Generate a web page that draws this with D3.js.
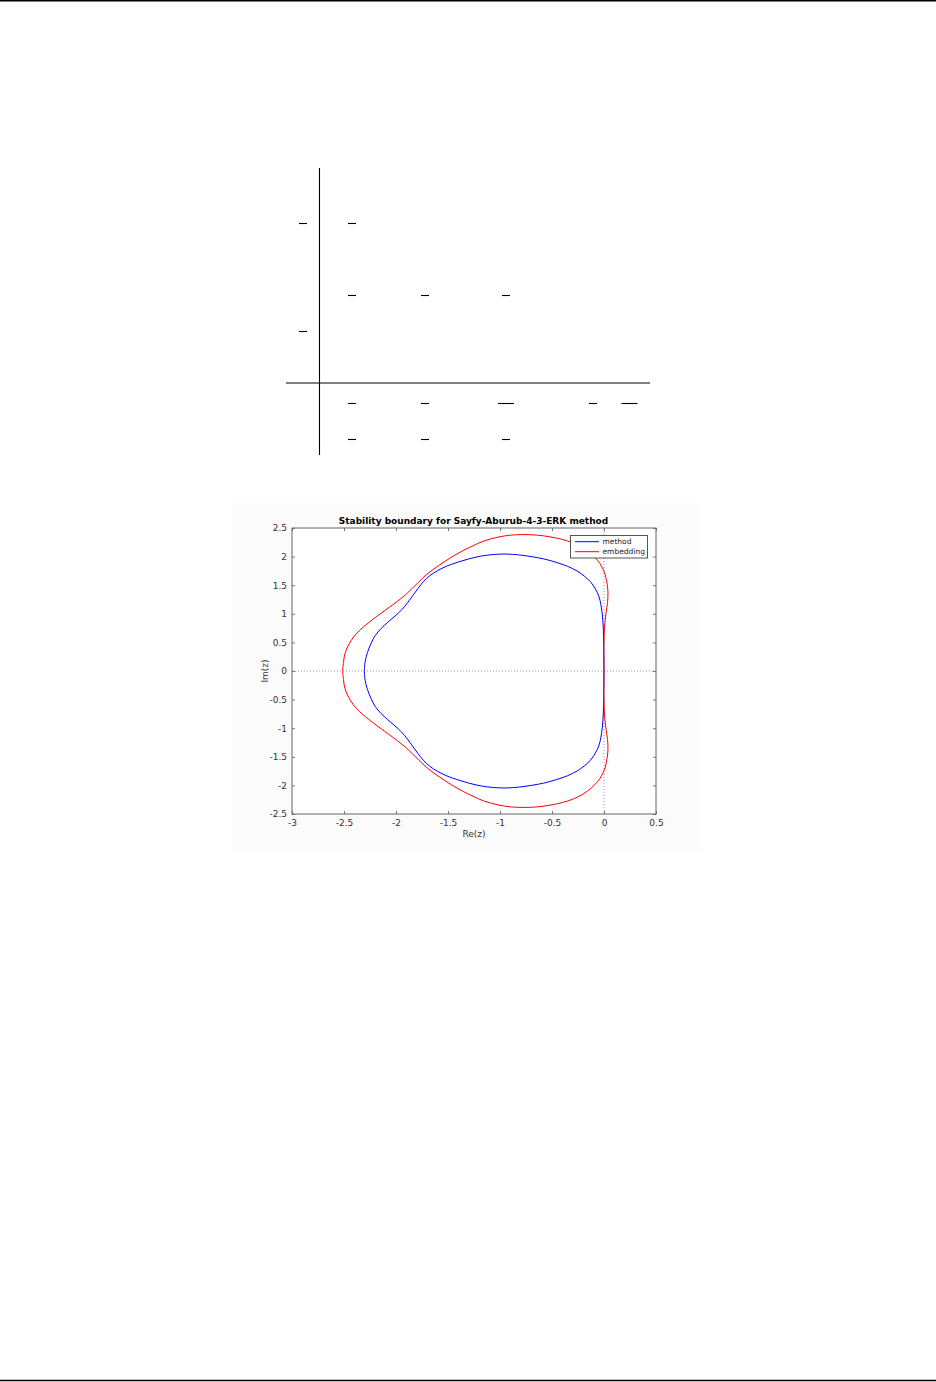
<!DOCTYPE html>
<html>
<head>
<meta charset="utf-8">
<title>Stability boundary for Sayfy-Aburub-4-3-ERK method</title>
<style>
	body { margin: 0; background: #fff; }
	svg { display: block; font-family: "DejaVu Sans", sans-serif; }
</style>
</head>
<body>
<script src="https://d3js.org/d3.v7.min.js"></script>
<script>

// Butcher tableau: only the fraction bars are visible (row, column, digits in denominator)
var tableauC = [ {row: 1, col: 0, digits: 1}, {row: 4, col: 0, digits: 1} ];
var tableauA = [
	{row: 1, col: 1, digits: 1},
	{row: 3, col: 1, digits: 1}, {row: 3, col: 2, digits: 1}, {row: 3, col: 3, digits: 1}
];
var tableauB = [
	{row: 6, col: 1, digits: 1}, {row: 6, col: 2, digits: 1}, {row: 6, col: 3, digits: 2},
	{row: 6, col: 4, digits: 1}, {row: 6, col: 5, digits: 2}
];
var tableauBhat = [ {row: 7, col: 1, digits: 1}, {row: 7, col: 2, digits: 1}, {row: 7, col: 3, digits: 1} ];

// Stability boundaries (Re, Im)
var methodBoundary = [
	[-2.305, 0], [-2.297, 0.16], [-2.275, 0.32], [-2.24, 0.48], [-2.2, 0.62], [-2.145, 0.74],
	[-2.08, 0.85], [-2.01, 0.96], [-1.945, 1.07], [-1.89, 1.19], [-1.84, 1.315], [-1.79, 1.44],
	[-1.737, 1.56], [-1.675, 1.665], [-1.6, 1.755], [-1.51, 1.835], [-1.41, 1.9], [-1.3, 1.96],
	[-1.18, 2.01], [-1.06, 2.037], [-0.94, 2.045], [-0.82, 2.03], [-0.7, 2], [-0.58, 1.96],
	[-0.46, 1.9], [-0.35, 1.83], [-0.26, 1.75], [-0.19, 1.66], [-0.13, 1.56], [-0.085, 1.44],
	[-0.05, 1.31], [-0.03, 1.16], [-0.016, 0.98], [-0.007, 0.75], [-0.003, 0.45], [-0.001, 0.2],
	[0, 0],
	[-0.001, -0.2], [-0.003, -0.45], [-0.007, -0.75], [-0.016, -0.98], [-0.03, -1.16], [-0.05, -1.31],
	[-0.085, -1.44], [-0.13, -1.56], [-0.19, -1.66], [-0.26, -1.75], [-0.35, -1.83], [-0.46, -1.9],
	[-0.58, -1.96], [-0.7, -2], [-0.82, -2.03], [-0.94, -2.045], [-1.06, -2.037], [-1.18, -2.01],
	[-1.3, -1.96], [-1.41, -1.9], [-1.51, -1.835], [-1.6, -1.755], [-1.675, -1.665], [-1.737, -1.56],
	[-1.79, -1.44], [-1.84, -1.315], [-1.89, -1.19], [-1.945, -1.07], [-2.01, -0.96], [-2.08, -0.85],
	[-2.145, -0.74], [-2.2, -0.62], [-2.24, -0.48], [-2.275, -0.32], [-2.297, -0.16], [-2.305, 0]
];
var embeddingBoundary = [
	[-2.513, 0], [-2.505, 0.15], [-2.49, 0.31], [-2.455, 0.46], [-2.41, 0.59], [-2.35, 0.71],
	[-2.28, 0.82], [-2.21, 0.92], [-2.135, 1.02], [-2.06, 1.12], [-1.985, 1.22], [-1.91, 1.33],
	[-1.84, 1.45], [-1.78, 1.56], [-1.72, 1.665], [-1.655, 1.76], [-1.585, 1.85], [-1.51, 1.94],
	[-1.44, 2.02], [-1.36, 2.1], [-1.27, 2.18], [-1.16, 2.27], [-1.02, 2.34], [-0.9, 2.375],
	[-0.78, 2.385], [-0.64, 2.375], [-0.52, 2.345], [-0.4, 2.3], [-0.3, 2.24], [-0.2, 2.15],
	[-0.12, 2.04], [-0.06, 1.93], [-0.02, 1.82], [0.012, 1.68], [0.03, 1.52], [0.038, 1.38],
	[0.034, 1.2], [0.02, 1.02], [0.007, 0.82], [0.001, 0.6], [-0.002, 0.3], [0, 0],
	[-0.002, -0.3], [0.001, -0.6], [0.007, -0.82], [0.02, -1.02], [0.034, -1.2], [0.038, -1.38],
	[0.03, -1.52], [0.012, -1.68], [-0.02, -1.82], [-0.06, -1.93], [-0.12, -2.04], [-0.2, -2.15],
	[-0.3, -2.24], [-0.4, -2.3], [-0.52, -2.345], [-0.64, -2.375], [-0.78, -2.385], [-0.9, -2.375],
	[-1.02, -2.34], [-1.16, -2.27], [-1.27, -2.18], [-1.36, -2.1], [-1.44, -2.02], [-1.51, -1.94],
	[-1.585, -1.85], [-1.655, -1.76], [-1.72, -1.665], [-1.78, -1.56], [-1.84, -1.45], [-1.91, -1.33],
	[-1.985, -1.22], [-2.06, -1.12], [-2.135, -1.02], [-2.21, -0.92], [-2.28, -0.82], [-2.35, -0.71],
	[-2.41, -0.59], [-2.455, -0.46], [-2.49, -0.31], [-2.505, -0.15], [-2.513, 0]
];

var seriesNames = ["method", "embedding"];
var seriesColors = ["#0000ff", "#ff0000"];

var xTicks = [-3, -2.5, -2, -1.5, -1, -0.5, 0, 0.5];
var xTickLabels = ["-3", "-2.5", "-2", "-1.5", "-1", "-0.5", "0", "0.5"];
var yTicks = [-2.5, -2, -1.5, -1, -0.5, 0, 0.5, 1, 1.5, 2, 2.5];
var yTickLabels = ["-2.5", "-2", "-1.5", "-1", "-0.5", "0", "0.5", "1", "1.5", "2", "2.5"];

var chartTitle = "Stability boundary for Sayfy-Aburub-4-3-ERK method";
var xLabel = "Re(z)";
var yLabel = "Im(z)";

var width = 936;
var height = 1382;

var svg = d3.select("body").append("svg")
	.attr("width", width)
	.attr("height", height);

// page rules
svg.append("line").attr("x1", 0).attr("x2", width).attr("y1", 0.7).attr("y2", 0.7)
	.attr("stroke", "#000").attr("stroke-width", 1.4);
svg.append("line").attr("x1", 0).attr("x2", width).attr("y1", 1380.5).attr("y2", 1380.5)
	.attr("stroke", "#000").attr("stroke-width", 1.4);

// ---- tableau ----
var tRow = d3.scaleLinear().domain([0, 7]).range([223 - 36, 439]);
var tCol = d3.scaleOrdinal().domain([0, 1, 2, 3, 4, 5]).range([303, 352, 425, 506, 593, 629.5]);

var tab = svg.append("g").attr("stroke", "#000").attr("stroke-width", 1.1);
tab.append("line").attr("x1", 319.5).attr("x2", 319.5).attr("y1", 168).attr("y2", 455);
tab.append("line").attr("x1", 286).attr("x2", 650).attr("y1", 383).attr("y2", 383);

tab.selectAll("line.frac")
	.data(tableauC.concat(tableauA, tableauB, tableauBhat))
	.join("line")
		.attr("class", "frac")
		.attr("x1", function(d) { return tCol(d.col) - d.digits * 4; })
		.attr("x2", function(d) { return tCol(d.col) + d.digits * 4; })
		.attr("y1", function(d) { return tRow(d.row) + 0.5; })
		.attr("y2", function(d) { return tRow(d.row) + 0.5; });

// ---- figure ----
var fig = svg.append("g");
fig.append("rect").attr("x", 232).attr("y", 503).attr("width", 468).attr("height", 349)
	.attr("fill", "#fbfbfb");

var plot = {left: 292, right: 656, top: 528, bottom: 814};

var x = d3.scaleLinear().domain([-3, 0.5]).range([plot.left, plot.right]);
var y = d3.scaleLinear().domain([-2.5, 2.5]).range([plot.bottom, plot.top]);

fig.append("rect")
	.attr("x", plot.left).attr("y", plot.top)
	.attr("width", plot.right - plot.left).attr("height", plot.bottom - plot.top)
	.attr("fill", "#fff");

function styleAxis(g) {
	g.select(".domain").remove();
	g.selectAll(".tick line").attr("stroke", "#555").attr("stroke-width", 0.8);
	g.selectAll(".tick text").attr("fill", "#333").attr("font-size", 9)
		.attr("font-family", "DejaVu Sans, sans-serif");
}

fig.append("g")
	.attr("transform", "translate(0," + plot.bottom + ")")
	.call(d3.axisBottom(x).tickValues(xTicks).tickSize(-3).tickPadding(6)
		.tickFormat(function(d, i) { return xTickLabels[i]; }))
	.call(styleAxis);
fig.append("g")
	.attr("transform", "translate(0," + plot.top + ")")
	.call(d3.axisTop(x).tickValues(xTicks).tickSize(-3).tickFormat(""))
	.call(styleAxis);
fig.append("g")
	.attr("transform", "translate(" + plot.left + ",0)")
	.call(d3.axisLeft(y).tickValues(yTicks).tickSize(-3).tickPadding(5)
		.tickFormat(function(d, i) { return yTickLabels[i]; }))
	.call(styleAxis);
fig.append("g")
	.attr("transform", "translate(" + plot.right + ",0)")
	.call(d3.axisRight(y).tickValues(yTicks).tickSize(-3).tickFormat(""))
	.call(styleAxis);

// dotted axes through the origin
fig.append("line")
	.attr("x1", x(-3)).attr("x2", x(0.5)).attr("y1", y(0)).attr("y2", y(0))
	.attr("stroke", "#8c8cff").attr("stroke-width", 1).attr("stroke-dasharray", "1,2");
fig.append("line")
	.attr("x1", x(0)).attr("x2", x(0)).attr("y1", y(-2.5)).attr("y2", y(2.5))
	.attr("stroke", "#8c8cff").attr("stroke-width", 1).attr("stroke-dasharray", "1,2");

var line = d3.line()
	.x(function(d) { return x(d[0]); })
	.y(function(d) { return y(d[1]); })
	.curve(d3.curveCatmullRom);

fig.append("g")
	.attr("fill", "none")
	.selectAll("path")
	.data([methodBoundary, embeddingBoundary])
	.join("path")
		.attr("d", line)
		.attr("stroke", function(d, i) { return seriesColors[i]; })
		.attr("stroke-width", 1);

// box
fig.append("rect")
	.attr("x", plot.left).attr("y", plot.top)
	.attr("width", plot.right - plot.left).attr("height", plot.bottom - plot.top)
	.attr("fill", "none").attr("stroke", "#666").attr("stroke-width", 1);

// title and labels
fig.append("text")
	.attr("x", (plot.left + plot.right) / 2 - 0.5).attr("y", 523.5)
	.attr("text-anchor", "middle").attr("font-size", 9).attr("font-weight", "bold")
	.attr("fill", "#000")
	.text(chartTitle);
fig.append("text")
	.attr("x", x(-1.25)).attr("y", 837)
	.attr("text-anchor", "middle").attr("font-size", 9).attr("fill", "#333")
	.text(xLabel);
fig.append("text")
	.attr("transform", "translate(268," + y(0) + ") rotate(-90)")
	.attr("text-anchor", "middle").attr("font-size", 9).attr("fill", "#333")
	.text(yLabel);

// legend
var legend = fig.append("g");
legend.append("rect")
	.attr("x", 570.5).attr("y", 535.5).attr("width", 77).attr("height", 22.5)
	.attr("fill", "#fff").attr("stroke", "#444").attr("stroke-width", 0.9);
var item = legend.selectAll("g.item")
	.data(seriesNames)
	.join("g")
		.attr("class", "item")
		.attr("transform", function(d, i) { return "translate(0," + (541.7 + i * 10) + ")"; });
item.append("line")
	.attr("x1", 575).attr("x2", 599).attr("y1", 0).attr("y2", 0)
	.attr("stroke", function(d, i) { return seriesColors[i]; }).attr("stroke-width", 1);
item.append("text")
	.attr("x", 602.5).attr("dy", "0.33em")
	.attr("font-size", 7.5).attr("fill", "#222")
	.text(function(d) { return d; });

</script>
</body>
</html>
